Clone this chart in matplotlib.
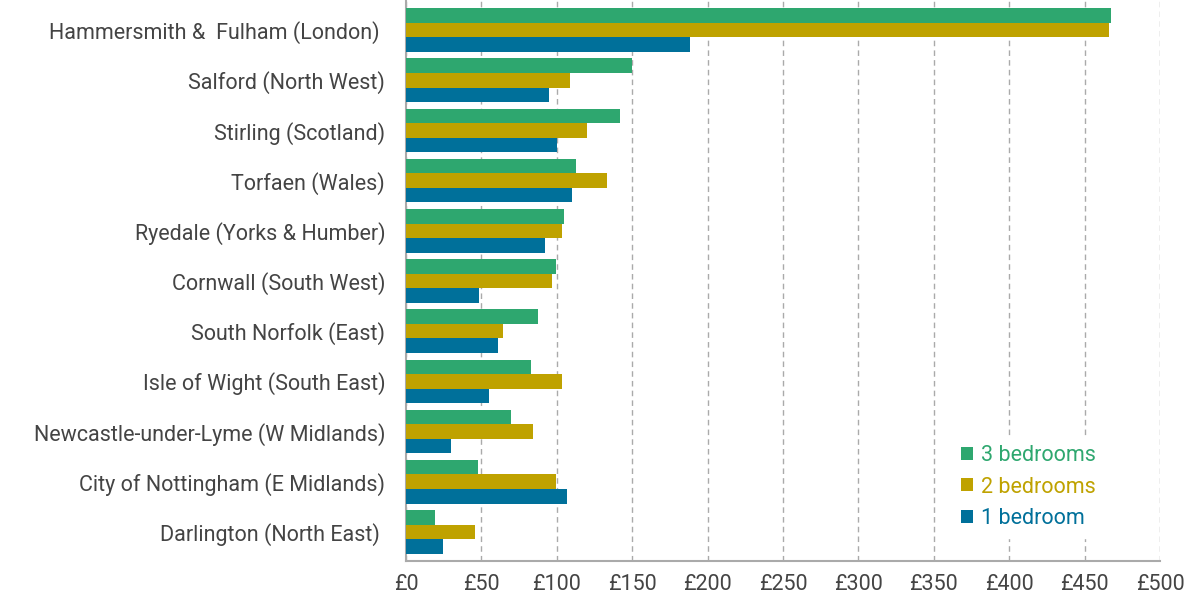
import matplotlib.pyplot as plt
import numpy as np

plt.rcParams['font.family'] = ['Roboto', 'DejaVu Sans']

regions = [
    "Hammersmith &  Fulham (London) ",
    "Salford (North West)",
    "Stirling (Scotland)",
    "Torfaen (Wales)",
    "Ryedale (Yorks & Humber)",
    "Cornwall (South West)",
    "South Norfolk (East)",
    "Isle of Wight (South East)",
    "Newcastle-under-Lyme (W Midlands)",
    "City of Nottingham (E Midlands)",
    "Darlington (North East) ",
]
bed3 = [467.5, 150, 142, 113, 105, 99.5, 87.5, 83, 69.5, 47.5, 19]
bed2 = [466, 109, 120, 133.5, 103.5, 96.5, 64.5, 103.5, 84.5, 99.5, 45.5]
bed1 = [188, 94.5, 100, 110, 92, 48.5, 61, 55, 30, 106.5, 24.5]
ticks = [0, 50, 100, 150, 200, 250, 300, 350, 400, 450, 500]

green = '#2ea76f'
gold = '#bfa200'
blue = '#00709a'
text_col = '#444444'

fig = plt.figure(figsize=(11.86, 5.98), dpi=100)
ax = fig.add_axes([406 / 1186, 1 - 561 / 598, (1160 - 406) / 1186, 561 / 598])

y = np.arange(len(regions))
h = 0.29
ax.barh(y - h, bed3, height=h, color=green, label='3 bedrooms', zorder=3)
ax.barh(y, bed2, height=h, color=gold, label='2 bedrooms', zorder=3)
ax.barh(y + h, bed1, height=h, color=blue, label='1 bedroom', zorder=3)

ax.set_ylim(len(regions) - 0.42, -0.6)
ax.set_xlim(0, 500)
ax.set_yticks(y)
ax.set_yticklabels(regions, fontsize=15.5, color=text_col)
ax.set_xticks(ticks)
ax.set_xticklabels([f"£{t}" for t in ticks], fontsize=15.5, color=text_col)
ax.tick_params(axis='both', length=0)
ax.tick_params(axis='y', pad=15)
ax.tick_params(axis='x', pad=9)

ax.grid(axis='x', color='#aaaaaa', linestyle=(0, (4, 3)), linewidth=1, zorder=0)
for s in ['top', 'right']:
    ax.spines[s].set_visible(False)
for s in ['left', 'bottom']:
    ax.spines[s].set_color('#aaaaaa')
    ax.spines[s].set_linewidth(1.5)

leg = ax.legend(loc='lower right', bbox_to_anchor=(0.94, 0.022), frameon=True,
                framealpha=1, edgecolor='white', fontsize=15.5, handlelength=0.55,
                handleheight=0.55, handletextpad=0.35, labelspacing=0.5)
for t, c in zip(leg.get_texts(), [green, gold, blue]):
    t.set_color(c)

fig.savefig('out.png', dpi=100)
